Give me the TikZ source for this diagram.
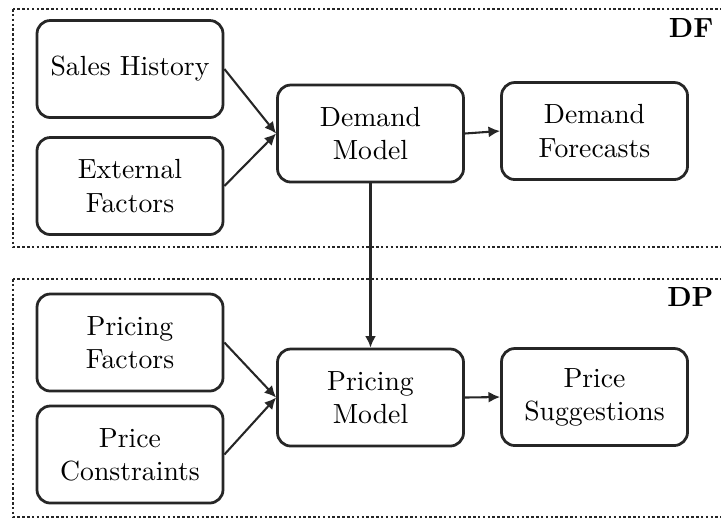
\documentclass[tikz,border=0pt]{standalone}
\usetikzlibrary{arrows.meta}

\tikzset{
  proc/.style={draw=black!85, line width=1pt, rounded corners=4.8pt,
    minimum width={186*0.361pt}, minimum height={97*0.361pt},
    align=center, inner sep=0pt, text=black},
  link/.style={draw=black!85, line width=0.75pt,
    -{Latex[length=4.2pt,width=4pt]}},
  stage/.style={draw=black!85, line width=0.9pt, dash pattern=on 0.9pt off 0.85pt},
  stagelabel/.style={anchor=east, font=\bfseries, inner sep=0pt}
}

\begin{document}
\begin{tikzpicture}[x=0.361pt, y=-0.361pt]
  \useasboundingbox (0,0) rectangle (721,518);

  % stage frames (open on the right)
  \begin{scope}
    \clip (0,0) rectangle (721,518);
    \draw[stage] (13,9) rectangle (760,247);
    \draw[stage] (13,279) rectangle (760,517);
  \end{scope}
  \node[stagelabel] (dflab) at (714,28) {DF};
  \node[stagelabel] (dplab) at (714,297) {DP};

  % demand forecasting
  \node[proc] (sh)  at (130,69)    {Sales History};
  \node[proc] (ef)  at (130,186)   {External\\Factors};
  \node[proc] (dm)  at (370.5,133.5) {Demand\\Model};
  \node[proc] (dfc) at (594.5,131) {Demand\\Forecasts};

  % demand pricing
  \node[proc] (pf)  at (130,342.5) {Pricing\\Factors};
  \node[proc] (pc)  at (130,454.5) {Price\\Constraints};
  \node[proc] (pm)  at (370.5,397.5) {Pricing\\Model};
  \node[proc] (ps)  at (594.5,397) {Price\\Suggestions};

  \draw[link] (sh.east) -- (dm.west);
  \draw[link] (ef.east) -- (dm.west);
  \draw[link] (dm.east) -- (dfc.west);
  \draw[link, line width=1pt] (dm.south) -- (pm.north);
  \draw[link] (pf.east) -- (pm.west);
  \draw[link] (pc.east) -- (pm.west);
  \draw[link] (pm.east) -- (ps.west);
\end{tikzpicture}
\end{document}
